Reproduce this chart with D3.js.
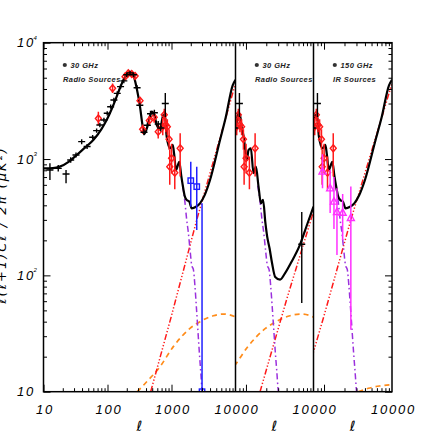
<!DOCTYPE html>
<html lang="en">
<head>
<meta charset="utf-8">
<title>Power spectrum with foregrounds</title>
<script src="https://cdn.jsdelivr.net/npm/d3@7"></script>
<style>
  body { margin: 0; background: #fff; }
  svg { display: block; }
  text { font-family: "Liberation Sans", Arial, sans-serif; font-style: italic; }
</style>
</head>
<body>
<script>
// ---- values: [l, value] ----
// black: total spectrum, left and right panels
const totalHigh = [[10,830],[14,835],[18,860],[25,950],[33,1084],[45,1260],[60,1458],[80,1800],[97,2163],
  [120,2800],[139,3436],[160,4200],[177,4786],[200,5300],[225,5560],[253,5270],[286,4055],[322,2818],
  [350,2000],[372,1641],[400,1750],[434,2030],[490,2553],[540,2400],[587,1963],[661,1803],[745,2397],
  [790,2350],[841,1556],[948,1236],[1045,1321],[1100,1100],[1175,805],[1325,948],[1420,720],[1496,598],
  [1610,480],[1728,445],[1897,430],[2070,377],[2416,389],[2788,416],[3300,490],[4000,660],[5730,1458],
  [7000,2250],[9036,4300],[10000,4800]];
// black: total spectrum, middle panel
const totalMid = [[700,1850],[712,1897],[770,2472],[814,2397],[861,1897],[925,1556],[1031,981],[1090,1192],
  [1182,1236],[1293,755],[1403,859],[1535,579],[1668,416],[1790,445],[1940,282],[2062,215],[2235,171],
  [2436,127],[2710,97],[3200,92],[3777,104],[4734,131],[6269,182],[8000,271],[10000,390]];
// purple dash-dot: CMB alone in the damping tail
const cmbTail = [[1496,590],[1626,420],[1728,300],[1830,235],[1950,165],[2070,122],[2200,112],[2320,82],
  [2456,52],[2600,32],[2734,21],[2860,15],[2981,10.7],[3150,8]];
// red dash-dot-dot-dot: point source term
const sourcesHigh = [[473,10],[1000,45],[2477,299],[10000,4470]];
const sourcesMid = [[1616,10],[4000,62],[9450,319],[10000,360]];
// orange dashed
const szMain = [[292,10],[400,12],[661,16.4],[1067,24.4],[1945,35],[2788,40],[4498,45],[6500,46.5],[9820,44],[10000,43.5]];
const szRight = [[3190,10],[4500,10.7],[6500,11.2],[10000,11.5]];

// ---- measured points: [l, value, low, high] ----
const crossPoints = [[12.6,805,661,918],[17,832,780,890],[22.5,744,618,805],[26.6,981,930,1035],
  [32.2,1084,1030,1140],[39.5,1410,1340,1480],[48,1281,1220,1345],[58.6,1537,1470,1610],[67.6,1753,1680,1830],
  [76,1963,1880,2050],[88,2163,2070,2260],[99,2472,2370,2580],[112,2818,2700,2940],[126,3216,3080,3360],
  [142,3670,3520,3830],[160,4190,4000,4380],[180,4700,4480,4920],[200,5300,5050,5550],[225,5500,5250,5750],
  [255,5300,5050,5550],[290,4100,3900,4300],[320,2900,2750,3050],[372,1700,1600,1800],[420,1950,1840,2060],
  [470,2450,2300,2600],[540,2500,2350,2650],[620,2000,1880,2120],[680,1850,1730,1970],[800,3000,2300,3700]];
const crossMid = [[6700,185,58,350]];
const diamondPoints = [[72,2234,1950,2550],[120,4055,3700,4450],[188,5105,4800,5400],[211,5460,5150,5750],
  [239,5380,5100,5650],[270,5170,4900,5450],[322,3170,2950,3400],[354,1803,1650,1980],[450,2143,1950,2350],
  [536,2290,2050,2550],[620,1717,1500,1950],[730,1897,1600,2250],[770,2397,2100,2700],[814,1963,1700,2250],
  [861,1897,1600,2200],[917,1480,1200,1800],[939,859,600,1200],[1003,1017,750,1350],[1125,763,550,1050],
  [1366,1236,706,1664]];
const squarePoints = [[2000,652,389,948],[2480,579,245,859],[3000,10,10,416]];
const trianglePoints = [[950,780,560,1100],[1230,560,344,805],[1400,430,250,700],[1550,350,150,560],
  [1880,345,200,500],[2480,311,34,580]];

const xLabelsLeft = [10, 100, 1000, 10000];
const xLabelsRest = [10000];
const yLabels = [["10", ""], ["10", "2"], ["10", "3"], ["10", "4"]];
const yLabelValues = [10, 100, 1000, 10000];

// ---- layout ----
const w = 436, h = 436;
const plotTop = 42.7, plotBottom = 391.7;

const panels = [
  {x0: 43.5, x1: 235.5, domain: [10, 10000], labels: xLabelsLeft, total: totalHigh, sources: sourcesHigh,
   sz: szMain, crosses: crossPoints, squares: squarePoints, triangles: [], legend: ["30 GHz", "Radio Sources"]},
  {x0: 235.5, x1: 313.5, domain: [700, 10000], labels: xLabelsRest, total: totalMid, sources: sourcesMid,
   sz: szMain, crosses: crossPoints.concat(crossMid), squares: [], triangles: [], legend: ["30 GHz", "Radio Sources"]},
  {x0: 313.5, x1: 392, domain: [700, 10000], labels: xLabelsRest, total: totalHigh, sources: sourcesHigh,
   sz: szRight, crosses: crossPoints, squares: [], triangles: trianglePoints, legend: ["150 GHz", "IR Sources"]}
];

const svg = d3.select("body").append("svg").attr("width", w).attr("height", h);

const yScale = d3.scaleLog().domain([10, 10000]).range([plotBottom, plotTop]);

// minor tick positions for a log axis
function minorTicks(lo, hi) {
  const out = [];
  for (let dec = 1; dec <= 10000; dec *= 10) {
    for (let m = 2; m <= 9; m++) {
      const v = m * dec;
      if (v > lo && v < hi) out.push(v);
    }
  }
  return out;
}
const majorValues = [10, 100, 1000, 10000];

panels.forEach(function(p, i) {
  const xScale = d3.scaleLog().domain(p.domain).range([p.x0, p.x1]);
  const inDomain = function(d) { return d[0] >= p.domain[0] * 0.97 && d[0] <= p.domain[1]; };

  svg.append("clipPath").attr("id", "clip" + i)
     .append("rect")
     .attr("x", p.x0).attr("y", plotTop)
     .attr("width", p.x1 - p.x0).attr("height", plotBottom - plotTop);

  const g = svg.append("g").attr("clip-path", "url(#clip" + i + ")");

  const line = d3.line()
                 .x(function(d) { return xScale(d[0]); })
                 .y(function(d) { return yScale(d[1]); });
  const smooth = d3.line()
                   .x(function(d) { return xScale(d[0]); })
                   .y(function(d) { return yScale(d[1]); })
                   .curve(d3.curveMonotoneX);

  g.append("path").attr("d", smooth(p.sz))
   .attr("fill", "none").attr("stroke", "#ff8c1a").attr("stroke-width", 1.7)
   .attr("stroke-dasharray", "5,4");

  g.append("path").attr("d", line(p.sources))
   .attr("fill", "none").attr("stroke", "#ff1a1a").attr("stroke-width", 1.5)
   .attr("stroke-dasharray", "6,2,1.3,2,1.3,2,1.3,2");

  g.append("path").attr("d", smooth(cmbTail))
   .attr("fill", "none").attr("stroke", "#9b30dd").attr("stroke-width", 1.5)
   .attr("stroke-dasharray", "6,3,1.5,3");

  g.append("path").attr("d", smooth(p.total))
   .attr("fill", "none").attr("stroke", "#000").attr("stroke-width", 2.2);

  // red diamonds
  const dia = p.crosses && diamondPoints.filter(inDomain);
  g.selectAll(".dbar").data(dia).enter().append("line")
   .attr("x1", function(d) { return xScale(d[0]); }).attr("x2", function(d) { return xScale(d[0]); })
   .attr("y1", function(d) { return yScale(d[2]); }).attr("y2", function(d) { return yScale(d[3]); })
   .attr("stroke", "#ff1a1a").attr("stroke-width", 1.5);
  g.selectAll(".dmark").data(dia).enter().append("path")
   .attr("d", function(d) {
     const cx = xScale(d[0]), cy = yScale(d[1]);
     return "M" + cx + "," + (cy - 3.5) + "L" + (cx + 3) + "," + cy + "L" + cx + "," + (cy + 3.5) + "L" + (cx - 3) + "," + cy + "Z";
   })
   .attr("fill", "none").attr("stroke", "#ff1a1a").attr("stroke-width", 1.4);

  // black crosses
  const crs = p.crosses.filter(inDomain);
  g.selectAll(".cv").data(crs).enter().append("line")
   .attr("x1", function(d) { return xScale(d[0]); }).attr("x2", function(d) { return xScale(d[0]); })
   .attr("y1", function(d) { return yScale(d[2]); }).attr("y2", function(d) { return yScale(d[3]); })
   .attr("stroke", "#000").attr("stroke-width", 1.4);
  g.selectAll(".ch").data(crs).enter().append("line")
   .attr("x1", function(d) { return xScale(d[0]) - 3.5; }).attr("x2", function(d) { return xScale(d[0]) + 3.5; })
   .attr("y1", function(d) { return yScale(d[1]); }).attr("y2", function(d) { return yScale(d[1]); })
   .attr("stroke", "#000").attr("stroke-width", 1.4);

  // blue squares
  g.selectAll(".sb").data(p.squares).enter().append("line")
   .attr("x1", function(d) { return xScale(d[0]); }).attr("x2", function(d) { return xScale(d[0]); })
   .attr("y1", function(d) { return yScale(d[2]); }).attr("y2", function(d) { return yScale(d[3]); })
   .attr("stroke", "#1f1fff").attr("stroke-width", 1.5);
  g.selectAll(".sq").data(p.squares).enter().append("rect")
   .attr("x", function(d) { return xScale(d[0]) - 2.7; }).attr("y", function(d) { return yScale(d[1]) - 2.7; })
   .attr("width", 5.4).attr("height", 5.4)
   .attr("fill", "none").attr("stroke", "#1f1fff").attr("stroke-width", 1.4);

  // magenta triangles
  g.selectAll(".tb").data(p.triangles).enter().append("line")
   .attr("x1", function(d) { return xScale(d[0]); }).attr("x2", function(d) { return xScale(d[0]); })
   .attr("y1", function(d) { return yScale(d[2]); }).attr("y2", function(d) { return yScale(d[3]); })
   .attr("stroke", "#ff30ff").attr("stroke-width", 1.5);
  g.selectAll(".tr").data(p.triangles).enter().append("path")
   .attr("d", function(d) {
     const cx = xScale(d[0]), cy = yScale(d[1]);
     return "M" + cx + "," + (cy - 4) + "L" + (cx + 3.5) + "," + (cy + 2.5) + "L" + (cx - 3.5) + "," + (cy + 2.5) + "Z";
   })
   .attr("fill", "none").attr("stroke", "#ff30ff").attr("stroke-width", 1.4);

  // x axes, ticks pointing inward
  const majX = majorValues.filter(function(v) { return v >= p.domain[0] && v < p.domain[1]; });
  const minX = minorTicks(p.domain[0], p.domain[1]);
  [[d3.axisBottom, plotBottom], [d3.axisTop, plotTop]].forEach(function(a) {
    svg.append("g").attr("transform", "translate(0," + a[1] + ")")
       .call(a[0](xScale).tickValues(majX).tickSize(-7).tickSizeOuter(0).tickFormat(""))
       .call(function(s) { s.select(".domain").remove(); });
    svg.append("g").attr("transform", "translate(0," + a[1] + ")")
       .call(a[0](xScale).tickValues(minX).tickSize(-3.5).tickSizeOuter(0).tickFormat(""))
       .call(function(s) { s.select(".domain").remove(); });
  });

  const lab = svg.append("g").attr("transform", "translate(1," + plotBottom + ")")
     .call(d3.axisBottom(xScale).tickValues(p.labels).tickSize(0).tickPadding(13).tickFormat(d3.format("d")));
  lab.select(".domain").remove();
  lab.selectAll("text").attr("font-size", 13).attr("font-family", "Liberation Sans, Arial, sans-serif")
     .attr("font-style", "italic").attr("letter-spacing", 1.8).attr("fill", "#000");

  // axis title
  svg.append("text").attr("x", (p.x0 + p.x1) / 2).attr("y", 431)
     .attr("text-anchor", "middle").attr("font-size", 14)
     .style("font-family", "DejaVu Sans, sans-serif")
     .text("ℓ");

  // legend
  svg.append("circle").attr("cx", p.x0 + 21.3).attr("cy", 65).attr("r", 2.1).attr("fill", "#333");
  svg.append("text").attr("x", p.x0 + 27).attr("y", 67.8).attr("font-size", 7.5)
     .attr("font-weight", "bold").attr("letter-spacing", 0.4).attr("fill", "#222").text(p.legend[0]);
  svg.append("text").attr("x", p.x0 + 19.5).attr("y", 81.7).attr("font-size", 7.5)
     .attr("font-weight", "bold").attr("letter-spacing", 0.4).attr("fill", "#222").text(p.legend[1]);
});

// y axes on the outer edges, ticks inward
const minY = minorTicks(10, 10000);
[[d3.axisRight, panels[0].x0], [d3.axisLeft, panels[2].x1]].forEach(function(a) {
  svg.append("g").attr("transform", "translate(" + a[1] + ",0)")
     .call(a[0](yScale).tickValues(majorValues).tickSize(7).tickSizeOuter(0).tickFormat(""))
     .call(function(s) { s.select(".domain").remove(); });
  svg.append("g").attr("transform", "translate(" + a[1] + ",0)")
     .call(a[0](yScale).tickValues(minY).tickSize(3.5).tickSizeOuter(0).tickFormat(""))
     .call(function(s) { s.select(".domain").remove(); });
});

// y tick labels with exponents
yLabelValues.forEach(function(v, i) {
  svg.append("text").attr("x", 35).attr("y", yScale(v)).attr("dy", "0.36em")
     .attr("text-anchor", "end").attr("font-size", 13).attr("letter-spacing", 1.8)
     .text(yLabels[i][0]);
  if (yLabels[i][1]) {
    svg.append("text").attr("x", 33.6).attr("y", yScale(v) - 3).attr("font-size", 6)
       .text(yLabels[i][1]);
  }
});

// frame and panel dividers
svg.append("rect").attr("x", panels[0].x0).attr("y", plotTop)
   .attr("width", panels[2].x1 - panels[0].x0).attr("height", plotBottom - plotTop)
   .attr("fill", "none").attr("stroke", "#000").attr("stroke-width", 1.5);
[panels[1].x0, panels[2].x0].forEach(function(x) {
  svg.append("line").attr("x1", x).attr("x2", x).attr("y1", plotTop).attr("y2", plotBottom)
     .attr("stroke", "#000").attr("stroke-width", 1.5);
});

// y axis title, mostly cut off by the page edge
svg.append("text").attr("transform", "translate(6,225) rotate(-90)")
   .attr("text-anchor", "middle").attr("font-size", 13).attr("letter-spacing", 2)
   .style("font-family", "DejaVu Sans, sans-serif")
   .text("ℓ(ℓ+1)Cℓ / 2π  (μK²)");
</script>
</body>
</html>
